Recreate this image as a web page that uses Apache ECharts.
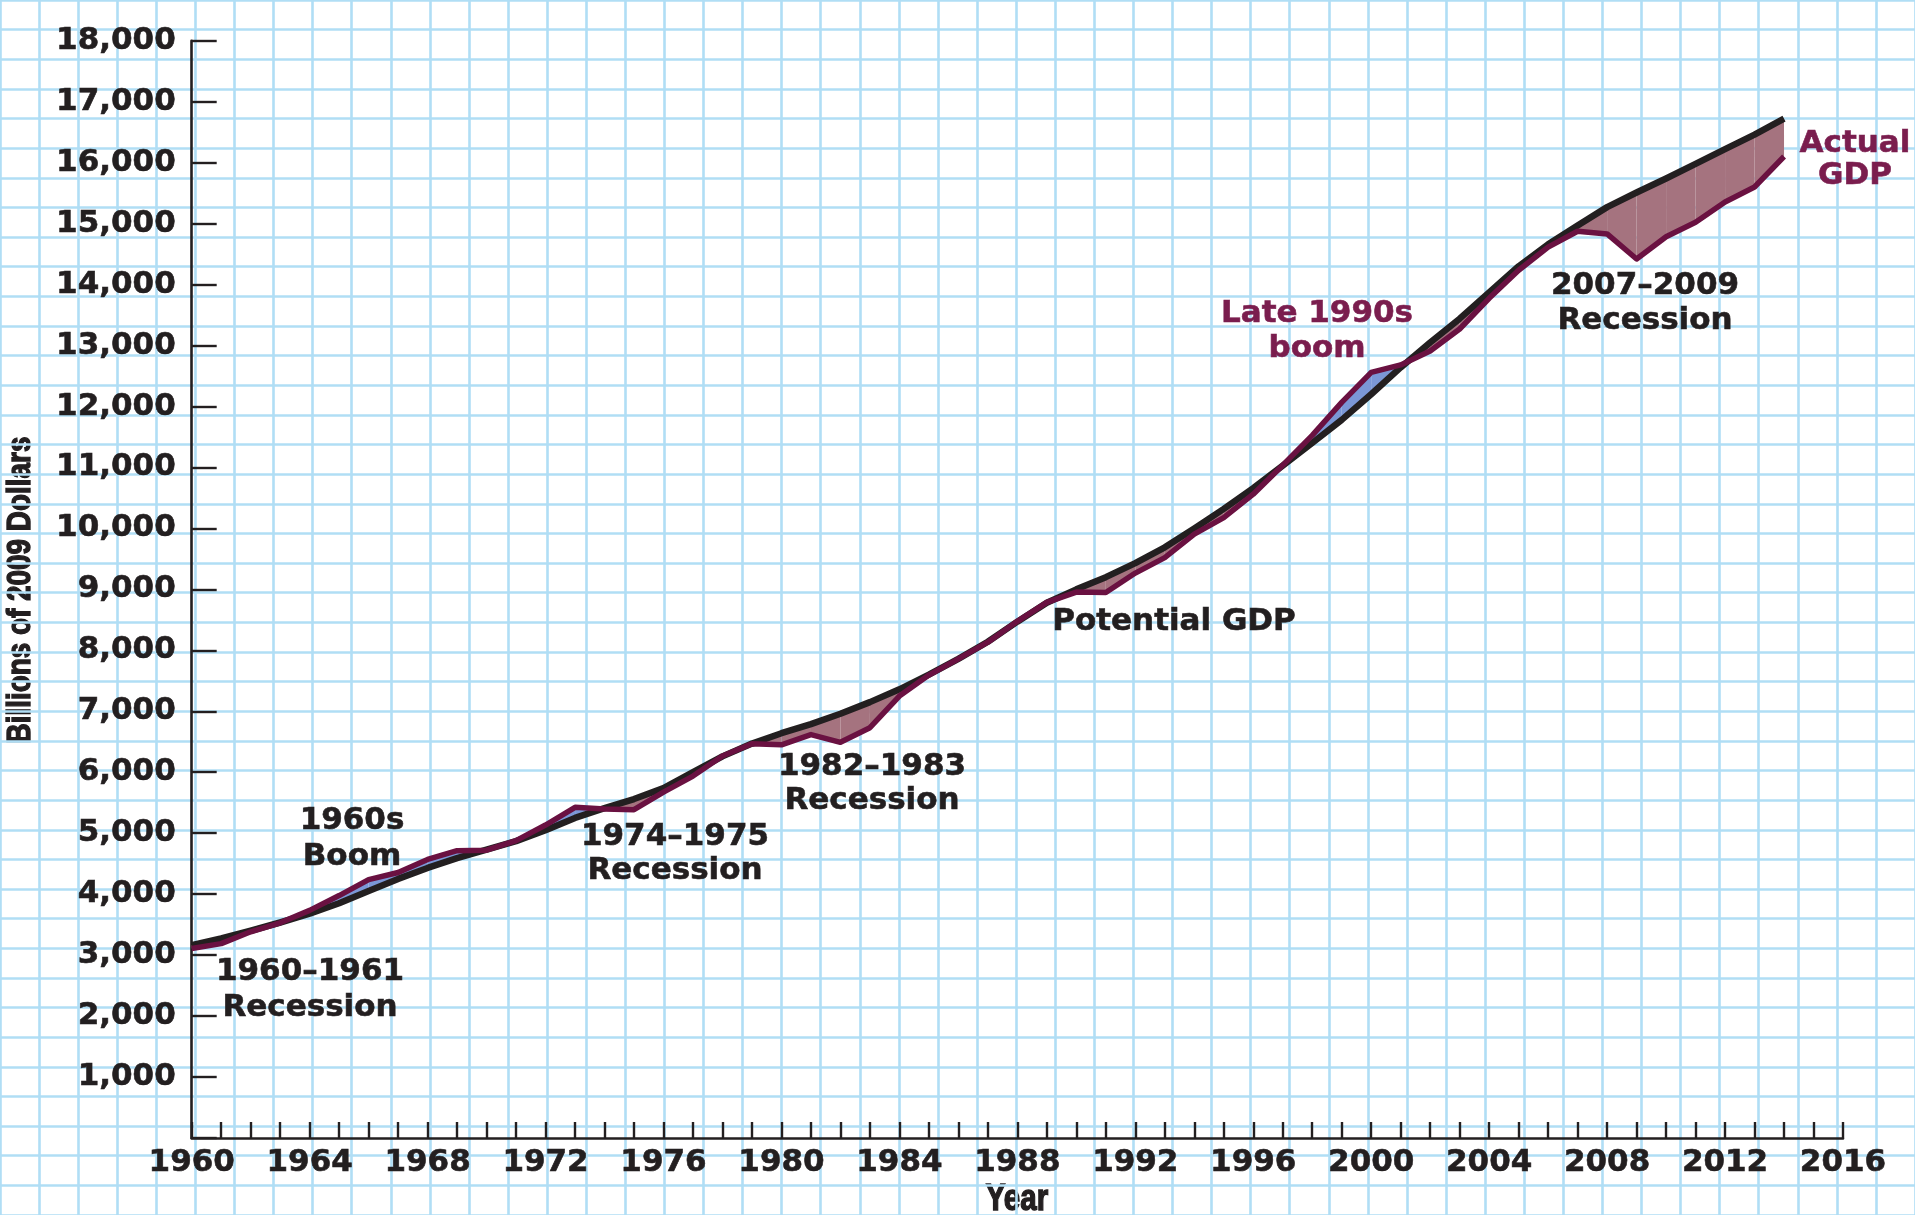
<!DOCTYPE html>
<html>
<head>
<meta charset="utf-8">
<script src="https://cdn.jsdelivr.net/npm/echarts@6/dist/echarts.min.js"></script>
<style>
  html, body { margin: 0; padding: 0; background: #ffffff; }
  #chart { width: 1915px; height: 1215px; }
</style>
</head>
<body>
<div id="chart"></div>
<script>
// Real GDP vs. potential GDP, billions of 2009 dollars
const years = [
  1960, 1961, 1962, 1963, 1964, 1965, 1966, 1967, 1968, 1969,
  1970, 1971, 1972, 1973, 1974, 1975, 1976, 1977, 1978, 1979,
  1980, 1981, 1982, 1983, 1984, 1985, 1986, 1987, 1988, 1989,
  1990, 1991, 1992, 1993, 1994, 1995, 1996, 1997, 1998, 1999,
  2000, 2001, 2002, 2003, 2004, 2005, 2006, 2007, 2008, 2009,
  2010, 2011, 2012, 2013, 2014
];

const potentialGDP = [
  3165, 3275, 3400, 3535, 3680, 3850, 4050, 4250, 4430, 4590,
  4730, 4870, 5050, 5250, 5410, 5560, 5740, 6000, 6260, 6470,
  6640, 6790, 6960, 7150, 7360, 7600, 7860, 8140, 8470, 8780,
  9000, 9200, 9430, 9690, 10000, 10320, 10660, 11030, 11400, 11780,
  12200, 12640, 13050, 13440, 13870, 14300, 14660, 14970, 15270, 15510,
  15740, 15980, 16220, 16460, 16720
];

const actualGDP = [
  3109, 3188, 3383, 3530, 3734, 3977, 4238, 4355, 4569, 4713,
  4722, 4878, 5134, 5424, 5396, 5385, 5675, 5937, 6267, 6466,
  6450, 6618, 6491, 6730, 7250, 7594, 7861, 8133, 8475, 8786,
  8955, 8948, 9267, 9521, 9905, 10175, 10561, 11035, 11526, 12066,
  12560, 12682, 12909, 13271, 13774, 14234, 14614, 14874, 14830, 14419,
  14784, 15021, 15355, 15600, 16100
];

const yearTicks = [1960, 1964, 1968, 1972, 1976, 1980, 1984, 1988, 1992, 1996, 2000, 2004, 2008, 2012, 2016];
const valueTicks = [1000, 2000, 3000, 4000, 5000, 6000, 7000, 8000, 9000, 10000,
                    11000, 12000, 13000, 14000, 15000, 16000, 17000, 18000];

const INK = '#231f20';
const MAROON = '#6a1141';
const MAROON_TEXT = '#7a1d4e';
const GAP_BELOW = '#a5737f';
const GAP_ABOVE = '#7b97d6';
const PAPER = '#b0def5';
const LABEL_FONT = 'DejaVu Sans';
const NARROW_FONT = '"Liberation Sans", sans-serif';

const annotations = [
  { text: '1960s', x: 352, y: 821, color: INK },
  { text: 'Boom', x: 352, y: 857, color: INK },
  { text: '1960\u20131961', x: 310, y: 972, color: INK },
  { text: 'Recession', x: 310, y: 1008, color: INK },
  { text: '1974\u20131975', x: 675, y: 837, color: INK },
  { text: 'Recession', x: 675, y: 871, color: INK },
  { text: '1982\u20131983', x: 872, y: 767, color: INK },
  { text: 'Recession', x: 872, y: 801, color: INK },
  { text: 'Potential GDP', x: 1174, y: 622, color: INK },
  { text: 'Late 1990s', x: 1317, y: 314, color: MAROON_TEXT },
  { text: 'boom', x: 1317, y: 349, color: MAROON_TEXT },
  { text: '2007\u20132009', x: 1645, y: 286, color: INK },
  { text: 'Recession', x: 1645, y: 321, color: INK },
  { text: 'Actual', x: 1855, y: 144, color: MAROON_TEXT },
  { text: 'GDP', x: 1855, y: 176, color: MAROON_TEXT }
];

// segments between consecutive years, used to shade the output gap
const gapRows = years.slice(0, -1).map((y, i) => [
  y, potentialGDP[i], actualGDP[i], years[i + 1], potentialGDP[i + 1], actualGDP[i + 1]
]);

const potentialLine = years.map((y, i) => [y, potentialGDP[i]]);
const actualLine = years.map((y, i) => [y, actualGDP[i]]);

function renderGap(params, api) {
  const x0 = api.value(0), p0 = api.value(1), a0 = api.value(2);
  const x1 = api.value(3), p1 = api.value(4), a1 = api.value(5);
  const P0 = api.coord([x0, p0]), P1 = api.coord([x1, p1]);
  const A0 = api.coord([x0, a0]), A1 = api.coord([x1, a1]);
  const d0 = a0 - p0, d1 = a1 - p1;
  const fillFor = d => (d < 0 ? GAP_BELOW : GAP_ABOVE);
  const children = [];
  if (d0 * d1 >= 0) {
    const d = d0 !== 0 ? d0 : d1;
    if (d !== 0) {
      children.push({ type: 'polygon', shape: { points: [P0, P1, A1, A0] }, style: { fill: fillFor(d) } });
    }
  } else {
    const t = d0 / (d0 - d1);
    const C = [P0[0] + (P1[0] - P0[0]) * t, P0[1] + (P1[1] - P0[1]) * t];
    children.push({ type: 'polygon', shape: { points: [P0, C, A0] }, style: { fill: fillFor(d0) } });
    children.push({ type: 'polygon', shape: { points: [C, P1, A1] }, style: { fill: fillFor(d1) } });
  }
  return { type: 'group', children };
}

const chart = echarts.init(document.getElementById('chart'), null, { renderer: 'canvas' });

const option = {
  backgroundColor: '#ffffff',
  animation: false,
  grid: [
    // graph-paper background, cells of 4/3 year by 500
    { left: -4.885, right: -6.6, top: -20.2, bottom: -14.4, show: false },
    // plotting area
    { left: 191.7, right: 72, top: 40.7, bottom: 77, show: false }
  ],
  xAxis: [
    {
      gridIndex: 0, type: 'value', min: 0, max: 49, interval: 1,
      axisLine: { show: false }, axisTick: { show: false }, axisLabel: { show: false },
      splitLine: { show: true, lineStyle: { color: PAPER, width: 2.6 } }
    },
    {
      gridIndex: 1, type: 'value', min: 1960, max: 2016, interval: 1,
      axisLine: { show: true, lineStyle: { color: INK, width: 2.6 } },
      axisTick: { show: true, inside: true, length: 16, lineStyle: { color: INK, width: 2.4 } },
      axisLabel: {
        show: true, margin: 9,
        formatter: v => (yearTicks.indexOf(v) >= 0 ? String(v) : ''),
        fontFamily: LABEL_FONT, fontWeight: 'bold', fontSize: 31, color: INK,
        textBorderColor: INK, textBorderWidth: 0.6
      },
      splitLine: { show: false }
    }
  ],
  yAxis: [
    {
      gridIndex: 0, type: 'value', min: -1500, max: 19000, interval: 500,
      axisLine: { show: false }, axisTick: { show: false }, axisLabel: { show: false },
      splitLine: { show: true, lineStyle: { color: PAPER, width: 2.6 } }
    },
    {
      gridIndex: 1, type: 'value', min: 0, max: 18000, interval: 1000,
      axisLine: { show: true, lineStyle: { color: INK, width: 2.6 } },
      axisTick: { show: true, inside: true, length: 25, lineStyle: { color: INK, width: 2.4 } },
      axisLabel: {
        show: true, margin: 16,
        formatter: v => (valueTicks.indexOf(v) >= 0 ? v.toLocaleString('en-US') : ''),
        fontFamily: LABEL_FONT, fontWeight: 'bold', fontSize: 31, color: INK,
        textBorderColor: INK, textBorderWidth: 0.6
      },
      splitLine: { show: false }
    }
  ],
  series: [
    {
      type: 'custom', name: 'Output gap', xAxisIndex: 1, yAxisIndex: 1,
      data: gapRows, renderItem: renderGap,
      encode: { x: [0, 3], y: [1, 2, 4, 5] }, z: 2, silent: true
    },
    {
      type: 'line', name: 'Potential GDP', xAxisIndex: 1, yAxisIndex: 1,
      data: potentialLine, showSymbol: false, symbol: 'none',
      lineStyle: { color: INK, width: 6.5, join: 'round', cap: 'butt' }, z: 3
    },
    {
      type: 'line', name: 'Actual GDP', xAxisIndex: 1, yAxisIndex: 1,
      data: actualLine, showSymbol: false, symbol: 'none',
      lineStyle: { color: MAROON, width: 5.5, join: 'round', cap: 'butt' }, z: 4
    }
  ],
  graphic: [
    {
      // condensed axis title: bold face squeezed along the text direction
      type: 'text', x: 20.5, y: 590, rotation: Math.PI / 2, scaleX: 0.82,
      style: {
        text: 'Billions of 2009 Dollars', align: 'center', verticalAlign: 'middle',
        font: 'bold 34px ' + NARROW_FONT, fill: INK, stroke: INK, lineWidth: 1.4
      }
    },
    {
      type: 'text', x: 1017, y: 1200, scaleX: 0.82,
      style: {
        text: 'Year', align: 'center', verticalAlign: 'middle',
        font: 'bold 36px ' + NARROW_FONT, fill: INK, stroke: INK, lineWidth: 1.4
      }
    }
  ].concat(annotations.map(a => ({
    type: 'text', x: a.x, y: a.y, z: 10,
    style: {
      text: a.text, align: 'center', verticalAlign: 'middle',
      font: 'bold 31px "' + LABEL_FONT + '"', fill: a.color,
      stroke: a.color, lineWidth: 0.6
    }
  })))
};

chart.setOption(option);
</script>
</body>
</html>
